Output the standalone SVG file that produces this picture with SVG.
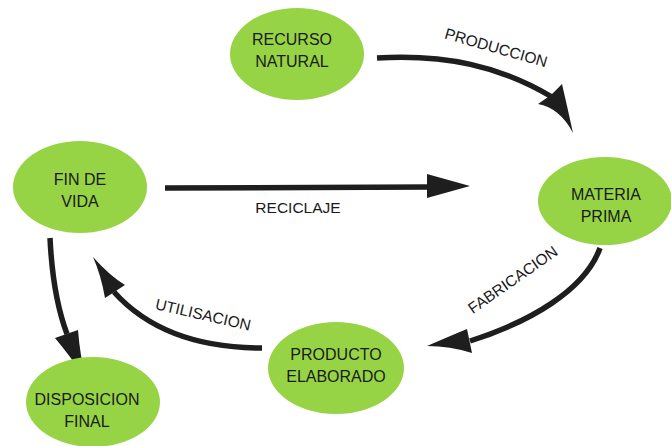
<svg xmlns="http://www.w3.org/2000/svg" width="671" height="446" viewBox="0 0 671 446">
<style>
.node{fill:#97d445;}
.nt{font-family:"Liberation Sans",Arial,sans-serif;font-size:16px;fill:#1a1a1a;text-anchor:middle;}
.lbl{font-family:"Liberation Sans",Arial,sans-serif;font-size:15.5px;fill:#1a1a1a;text-anchor:middle;}
.ln{fill:none;stroke:#1e1e1e;stroke-width:5.5;stroke-linecap:butt;}
.hd{fill:#1e1e1e;}
</style>
<rect width="671" height="446" fill="#ffffff"/>
<g id="connectors">
  <path class="ln" d="M377,58 C445,54 500,66 552,97"/>
  <path class="hd" d="M573,133 Q560,108 538,104 L551,95 L562,84 Q568,110 573,133 Z"/>
  <path class="ln" d="M165,188 L430,187"/>
  <path class="hd" d="M470,186 L427,174 L427,198 Z"/>
  <path class="ln" d="M600,248 C585,290 530,322 470,341"/>
  <path class="hd" d="M427,346 Q450,336 467,329 L472,353 Q450,346 427,346 Z"/>
  <path class="ln" d="M262,348 C200,348 150,332 114,292"/>
  <path class="hd" d="M93,257 Q110,276 125,285 L105,298 Q101,275 93,257 Z"/>
  <path class="ln" d="M50,238 C52,280 58,310 67,334"/>
  <path class="hd" d="M86,379 Q70,356 55,338 L78,330 Q80,356 86,379 Z"/>
  <text class="lbl" transform="translate(496,48) rotate(16)" y="5">PRODUCCION</text>
  <text class="lbl" x="298" y="213">RECICLAJE</text>
  <text class="lbl" transform="translate(513,280) rotate(-35)" y="5">FABRICACION</text>
  <text class="lbl" transform="translate(203,315) rotate(13)" y="5">UTILISACION</text>
</g>
<g id="recurso-natural">
  <ellipse class="node" cx="297" cy="54" rx="67" ry="46"/>
  <text class="nt" x="292" y="45">RECURSO</text>
  <text class="nt" x="292" y="67">NATURAL</text>
</g>
<g id="fin-de-vida">
  <ellipse class="node" cx="80" cy="187" rx="67" ry="46"/>
  <text class="nt" x="80" y="185">FIN DE</text>
  <text class="nt" x="80" y="207">VIDA</text>
</g>
<g id="materia-prima">
  <ellipse class="node" cx="605" cy="201" rx="67" ry="44"/>
  <text class="nt" x="606" y="200">MATERIA</text>
  <text class="nt" x="606" y="222">PRIMA</text>
</g>
<g id="producto-elaborado">
  <ellipse class="node" cx="336" cy="368" rx="68" ry="46"/>
  <text class="nt" x="336" y="360">PRODUCTO</text>
  <text class="nt" x="336" y="382">ELABORADO</text>
</g>
<g id="disposicion-final">
  <ellipse class="node" cx="93" cy="402" rx="67" ry="45"/>
  <text class="nt" x="87" y="405">DISPOSICION</text>
  <text class="nt" x="87" y="427">FINAL</text>
</g>
</svg>
